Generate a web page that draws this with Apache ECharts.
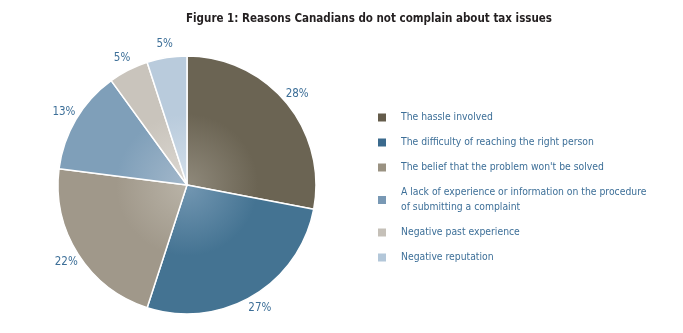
<!DOCTYPE html>
<html><head><meta charset="utf-8">
<script src="https://cdn.jsdelivr.net/npm/echarts@6/dist/echarts.min.js"></script>
<style>html,body{margin:0;padding:0;background:#fff}#c{width:683px;height:333px}</style>
</head><body><div id="c"></div>
<script>
const categories = [
  'The hassle involved',
  'The difficulty of reaching the right person',
  "The belief that the problem won't be solved",
  'A lack of experience or information on the procedure\nof submitting a complaint',
  'Negative past experience',
  'Negative reputation'
];
const values = [28, 27, 22, 13, 5, 5];
const colors = ['#645c4b', '#3b6a8d', '#9a9282', '#7898b4', '#c5c0b8', '#b3c7d9'];
const lightColors = ['#8f897b', '#7397b2', '#b9b3a7', '#a3b8cb', '#dcd8d2', '#d3dfea'];
const edgeColors = ['#6b6453', '#447392', '#a0988a', '#7f9fb9', '#c9c4bc', '#b9cbdc'];

const FONT = "'Liberation Sans Narrow','DejaVu Sans Condensed',sans-serif";
const cx = 187, cy = 185, R = 129;
const chart = echarts.init(document.getElementById('c'));
const mainData = categories.map((n, i) => ({
  name: n, value: values[i],
  itemStyle: { color: { type: 'radial', x: cx, y: cy, r: R, global: true,
    colorStops: [{ offset: 0, color: lightColors[i] }, { offset: 0.55, color: edgeColors[i] }, { offset: 1, color: edgeColors[i] }] } }
}));
chart.setOption({
  animation: false,
  color: colors,
  title: { text: 'Figure 1: Reasons Canadians do not complain about tax issues', left: 364, top: 8, textAlign: 'center',
    textStyle: { fontFamily: FONT, fontSize: 11.5, fontWeight: 'bold', color: '#231f20' } },
  legend: {
    orient: 'vertical', left: 376, top: 110, padding: 0, itemWidth: 10, itemHeight: 10, itemGap: 10,
    icon: 'rect', data: categories.map((n, i) => ({ name: n, itemStyle: { color: colors[i] } })),
    textStyle: { fontFamily: FONT, fontSize: 10.3, color: '#3d6f98', lineHeight: 15, padding: [0, 0, 0, 9] },
    selectedMode: false
  },
  series: [{
    type: 'pie', center: [cx, cy], radius: [0, R], startAngle: 90, clockwise: true,
    silent: true, label: { show: false }, labelLine: { show: false },
    itemStyle: { borderColor: '#ffffff', borderWidth: 1.5 },
    data: mainData
  }, {
    type: 'pie', center: [cx, cy], radius: [134, 146], startAngle: 90, clockwise: true,
    silent: true, itemStyle: { color: 'rgba(0,0,0,0)' },
    label: { show: true, position: 'inside', formatter: '{c}%', fontFamily: FONT, fontSize: 11.5, color: '#3d6f98' },
    labelLine: { show: false },
    data: categories.map((n, i) => ({ name: n, value: values[i] }))
  }]
});
</script></body></html>
